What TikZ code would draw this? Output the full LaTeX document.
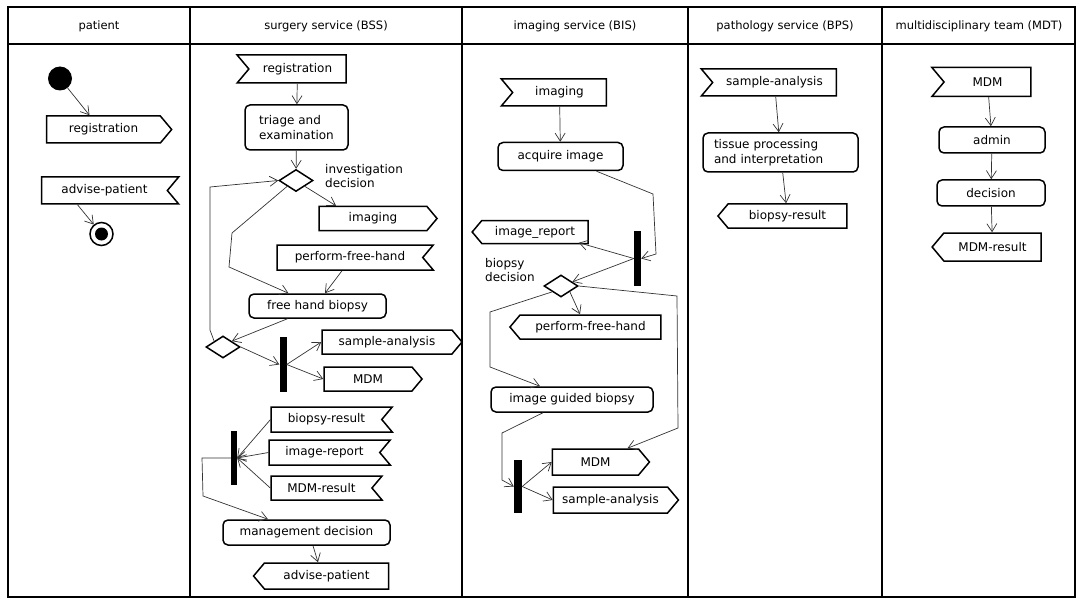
\documentclass[tikz,border=0pt]{standalone}
\usepackage{fontspec}
\setmainfont{DejaVu Sans}
\usetikzlibrary{shapes.symbols,shapes.geometric,arrows.meta}

\begin{document}
\begin{tikzpicture}
      [x=1pt,y=-1pt
      ,font=\fontsize{12}{14.5}\selectfont
      ,lane/.style={line width=1.8pt}
      ,head/.style={font=\fontsize{11.5}{14}\selectfont}
      ,act/.style={draw,line width=1.5pt,rounded corners=5pt,inner sep=0pt,align=left}
      ,sig/.style={draw,line width=1.5pt,signal,signal pointer angle=100,inner sep=0pt}
      ,sendr/.style={sig,signal to=east}
      ,sendl/.style={sig,signal to=west}
      ,recvl/.style={sig,signal from=west,signal to=nowhere}
      ,recvr/.style={sig,signal from=east,signal to=nowhere}
      ,dec/.style={draw,diamond,line width=1.5pt,minimum width=34pt,minimum height=22pt,inner sep=0pt}
      ,bar/.style={fill=black,inner sep=0pt,minimum width=7pt}
      ,startdot/.style={circle,fill=black,minimum size=24pt,inner sep=0pt}
      ,enddot/.style={circle,draw,line width=1.5pt,minimum size=23pt,inner sep=0pt
                     ,path picture={\fill (path picture bounding box.center) circle (6.5pt);}}
      ,flow/.style={draw=black!80,line width=.7pt,-{Straight Barb[length=8pt,width=10pt]}}
      ,lbl/.style={anchor=west,align=left,inner sep=0pt}
      ]
        \useasboundingbox (0,0) rectangle (1077,599);

        % swimlanes
        \draw[lane] (8,7) rectangle (1075,597);
        \draw[lane] (8,44) -- (1075,44);
        \foreach \x in {190,462,688,882}{
            \draw[lane] (\x,7) -- (\x,597);
        }
        \node[head] (hPat) at (99,26) {patient};
        \node[head] (hBss) at (326,26) {surgery service (BSS)};
        \node[head] (hBis) at (575,26) {imaging service (BIS)};
        \node[head] (hBps) at (785,26) {pathology service (BPS)};
        \node[head] (hMdt) at (979,26) {multidisciplinary team (MDT)};

        % patient
        \node[startdot] (start) at (60,78.5) {};
        \node[sendr,minimum width=125pt,minimum height=27pt] (regP) at (103.5,129.5) {registration};
        \node[recvr,minimum width=137pt,minimum height=27pt] (advP) at (104.5,190.5) {advise-patient};
        \node[enddot] (stop) at (101.5,234) {};

        % surgery service
        \node[recvl,minimum width=109pt,minimum height=28pt] (regS) at (297.5,69) {registration};
        \node[act,minimum width=103pt,minimum height=45pt] (triage) at (296.5,127.5) {triage and\\examination};
        \node[dec] (dec1) at (296,180.5) {};
        \node[lbl] (dec1l) at (325,176) {investigation\\decision};
        \node[sendr,minimum width=118pt,minimum height=24pt] (imgS) at (373,218.5) {imaging};
        \node[recvr,minimum width=156pt,minimum height=25pt] (pfhR) at (350,257.5) {perform-free-hand};
        \node[act,minimum width=137pt,minimum height=24pt] (fhb) at (317.5,306) {free hand biopsy};
        \node[dec] (dec2) at (223,347) {};
        \node[bar,minimum height=55pt] (fork1) at (283,364.5) {};
        \node[sendr,minimum width=140pt,minimum height=24pt] (saS) at (387,342) {sample-analysis};
        \node[sendr,minimum width=98pt,minimum height=24pt] (mdmS) at (368,379) {MDM};
        \node[recvr,minimum width=121pt,minimum height=25pt] (brR) at (326.5,419.5) {biopsy-result};
        \node[recvr,minimum width=121pt,minimum height=25pt] (irR) at (324.5,452.5) {image-report};
        \node[recvr,minimum width=111pt,minimum height=24pt] (mrR) at (321.5,488) {MDM-result};
        \node[bar,minimum width=6pt,minimum height=54pt] (join1) at (234,458) {};
        \node[act,minimum width=167pt,minimum height=25pt] (mgmt) at (306.5,532.5) {management decision};
        \node[sendl,minimum width=135pt,minimum height=26pt] (advS) at (326.5,576) {advise-patient};

        % imaging service
        \node[recvl,minimum width=105pt,minimum height=27pt] (imgR) at (559.5,92.5) {imaging};
        \node[act,minimum width=125pt,minimum height=28pt] (acq) at (560.5,156.5) {acquire image};
        \node[bar,minimum height=55pt] (fork2) at (637.5,258.5) {};
        \node[sendl,minimum width=116pt,minimum height=23pt] (irS) at (535,232) {image\_report};
        \node[dec] (dec3) at (561,286) {};
        \node[lbl] (dec3l) at (485,270) {biopsy\\decision};
        \node[sendl,minimum width=151pt,minimum height=24pt] (pfhS) at (590.5,327) {perform-free-hand};
        \node[act,minimum width=162pt,minimum height=25pt] (igb) at (572,399.5) {image guided biopsy};
        \node[bar,minimum width=8pt,minimum height=53pt] (fork3) at (518,486.5) {};
        \node[sendr,minimum width=97pt,minimum height=26pt] (mdmS2) at (595.5,462) {MDM};
        \node[sendr,minimum width=125pt,minimum height=26pt] (saS2) at (610.5,500) {sample-analysis};

        % pathology service
        \node[recvl,minimum width=135pt,minimum height=27pt] (saR) at (774.5,82.5) {sample-analysis};
        \node[act,minimum width=155pt,minimum height=39pt,text width=133pt] (tissue) at (780.5,152.5) {tissue processing\\and interpretation};
        \node[sendl,minimum width=129pt,minimum height=24pt] (brS) at (787.5,216) {biopsy-result};

        % multidisciplinary team
        \node[recvl,minimum width=99pt,minimum height=29pt] (mdmR) at (987.5,82) {MDM};
        \node[act,minimum width=106pt,minimum height=26pt] (admin) at (992,140) {admin};
        \node[act,minimum width=108pt,minimum height=26pt] (decision) at (991,193) {decision};
        \node[sendl,minimum width=109pt,minimum height=28pt] (mrS) at (992.5,247) {MDM-result};

        % bends
        \coordinate (s1) at (232,233);
        \coordinate (s2) at (229,267);
        \coordinate (s3) at (210,330);
        \coordinate (s4) at (210,187);
        \coordinate (s5) at (202,458);
        \coordinate (s6) at (203,496);
        \coordinate (i1) at (653,194);
        \coordinate (i2) at (656,254);
        \coordinate (i3) at (490,312);
        \coordinate (i4) at (490,367);
        \coordinate (i5) at (677,296);
        \coordinate (i6) at (678,428);
        \coordinate (i7) at (502,433);
        \coordinate (i8) at (502,480);

        % flows
        \draw[flow] (start) -- ([xshift=-14pt]regP.north);
        \draw[flow] ([xshift=-27pt]advP.south) -- (stop);

        \draw[flow] (regS) -- (triage);
        \draw[flow] (triage) -- (dec1);
        \draw[flow] (dec1.south east) -- ([xshift=-37pt]imgS.north);
        \draw[flow] (dec1.south west) -- (s1) -- (s2) -- ([xshift=-29pt]fhb.north);
        \draw[flow] ([xshift=-8pt]pfhR.south) -- ([xshift=7.5pt]fhb.north);
        \draw[flow] ([xshift=-30pt]fhb.south) -- (dec2.north east);
        \draw[flow] (dec2.north west) -- (s3) -- (s4) -- (dec1.west);
        \draw[flow] (dec2.east) -- (fork1.west);
        \draw[flow] (fork1.east) -- (saS.west);
        \draw[flow] (fork1.east) -- (mdmS.west);
        \draw[flow] (brR.west) -- (join1.east);
        \draw[flow] (irR.west) -- (join1.east);
        \draw[flow] (mrR.west) -- (join1.east);
        \draw[flow] (join1.west) -- (s5) -- (s6) -- ([xshift=-38.5pt]mgmt.north);
        \draw[flow] ([xshift=6.5pt]mgmt.south) -- ([xshift=-8.5pt]advS.north);

        \draw[flow] (imgR) -- (acq);
        \draw[flow] ([xshift=36pt]acq.south) -- (i1) -- (i2) -- (fork2.east);
        \draw[flow] (fork2.west) -- ([xshift=-10pt]irS.south east);
        \draw[flow] (fork2.west) -- (dec3.20);
        \draw[flow] (dec3.south east) -- ([xshift=-10.5pt]pfhS.north);
        \draw[flow] (dec3.south west) -- (i3) -- (i4) -- ([xshift=-32pt]igb.north);
        \draw[flow] (dec3.east) -- (i5) -- (i6) -- ([xshift=32pt]mdmS2.north);
        \draw[flow] ([xshift=-29pt]igb.south) -- (i7) -- (i8) -- (fork3.west);
        \draw[flow] (fork3.east) -- (mdmS2.west);
        \draw[flow] (fork3.east) -- (saS2.west);

        \draw[flow] (saR) -- (tissue);
        \draw[flow] (tissue) -- (brS);

        \draw[flow] (mdmR) -- (admin);
        \draw[flow] (admin) -- (decision);
        \draw[flow] (decision) -- (mrS);
      \end{tikzpicture}
\end{document}
